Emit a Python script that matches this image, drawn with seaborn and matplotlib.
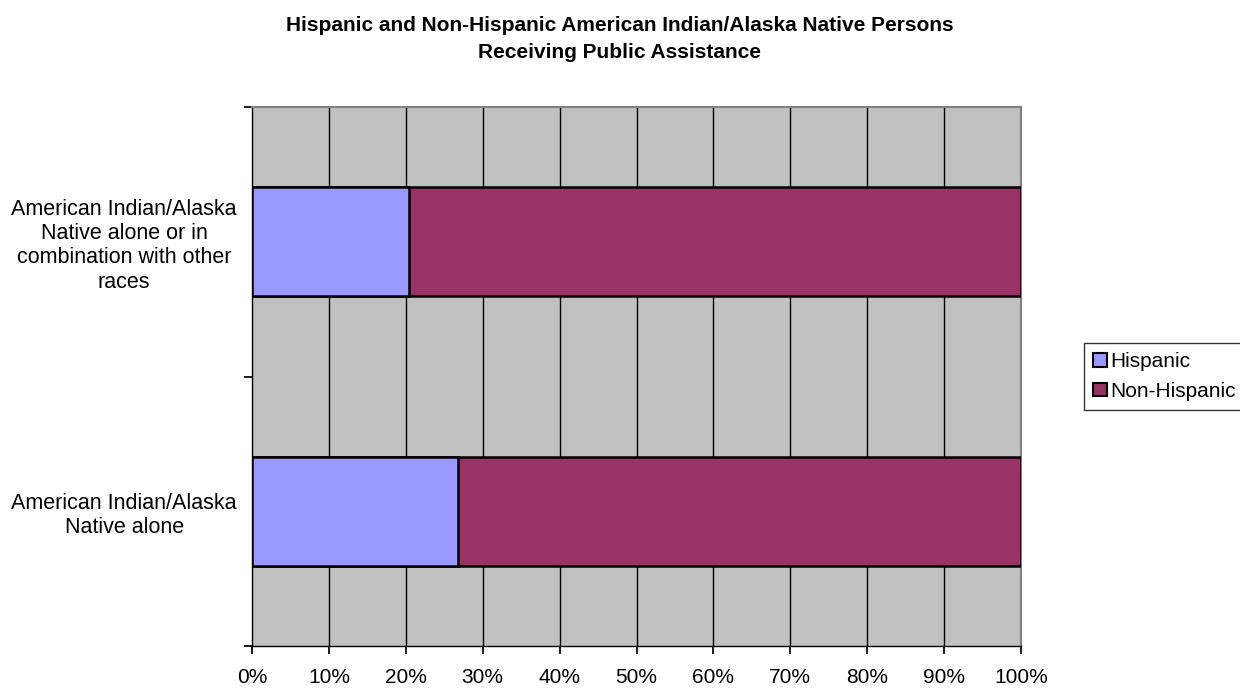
"""Stacked 100% bar chart: Hispanic vs Non-Hispanic AI/AN persons receiving public assistance."""

import matplotlib.pyplot as plt
import pandas as pd
import seaborn as sns
from matplotlib.patches import Patch

categories = [
    "American Indian/Alaska\nNative alone or in\ncombination with other\nraces",
    "American Indian/Alaska\nNative alone",
]
hispanic_pct = [20.4, 26.8]
non_hispanic_pct = [79.6, 73.2]
x_ticks = list(range(0, 101, 10))

HISP_COLOR = "#9999FF"
NONHISP_COLOR = "#993366"

sns.set_theme(style="white")
plt.rcParams["font.family"] = ["Liberation Sans", "DejaVu Sans"]
plt.rcParams["text.color"] = "black"
plt.rcParams["xtick.color"] = "black"
plt.rcParams["ytick.color"] = "black"

df = pd.DataFrame(
    {
        "category": categories,
        "hispanic": hispanic_pct,
        "total": [h + n for h, n in zip(hispanic_pct, non_hispanic_pct)],
    }
)

fig = plt.figure(figsize=(12.4, 6.88), dpi=100)
ax = fig.add_axes([252 / 1240, 1 - 646 / 688, 769 / 1240, 539 / 688])
ax.set_facecolor("#C0C0C0")

# Non-Hispanic drawn as the full bar, Hispanic overlaid from zero.
sns.barplot(data=df, x="total", y="category", color=NONHISP_COLOR, width=0.405,
            edgecolor="black", linewidth=1.8, saturation=1, ax=ax, zorder=3)
sns.barplot(data=df, x="hispanic", y="category", color=HISP_COLOR, width=0.405,
            edgecolor="black", linewidth=1.8, saturation=1, ax=ax, zorder=4)

ax.set_xlim(0, 100)
ax.set_ylim(1.5, -0.5)
ax.set_xticks(x_ticks)
ax.set_xticklabels([f"{t}%" for t in x_ticks], fontsize=15)
for t in x_ticks[1:-1]:
    ax.axvline(t, color="black", linewidth=1, zorder=1)

ax.set_yticks([-0.5, 0.5, 1.5])
ax.set_yticklabels([])
ax.set_yticks([0, 1], minor=True)
ax.set_yticklabels(categories, minor=True, fontsize=15.5, ha="center", linespacing=1.2)
ax.tick_params(axis="y", which="minor", length=0, pad=92)
ax.tick_params(axis="y", which="major", length=5.5, direction="out", left=True)
ax.tick_params(axis="x", length=5.5, direction="out", bottom=True, pad=10)
ax.set_xlabel("")
ax.set_ylabel("")

for side in ["top", "right"]:
    ax.spines[side].set_color("#808080")
    ax.spines[side].set_linewidth(1.5)
for side in ["left", "bottom"]:
    ax.spines[side].set_color("black")
    ax.spines[side].set_linewidth(1)

fig.text(0.5, 1 - 39 / 688,
         "Hispanic and Non-Hispanic American Indian/Alaska Native Persons\nReceiving Public Assistance",
         ha="center", va="center", fontsize=15, fontweight="bold", linespacing=1.55)

handles = [
    Patch(facecolor=HISP_COLOR, edgecolor="black", linewidth=1.5, label="Hispanic"),
    Patch(facecolor=NONHISP_COLOR, edgecolor="black", linewidth=1.5, label="Non-Hispanic"),
]
fig.legend(handles=handles, loc="upper left", bbox_to_anchor=(1084 / 1240, 1 - 343 / 688),
           frameon=True, fancybox=False, edgecolor="black", fontsize=15,
           handlelength=0.65, handleheight=0.65, handletextpad=0.15, borderpad=0.45,
           labelspacing=0.5, borderaxespad=0)

fig.savefig("out.png", dpi=100)
